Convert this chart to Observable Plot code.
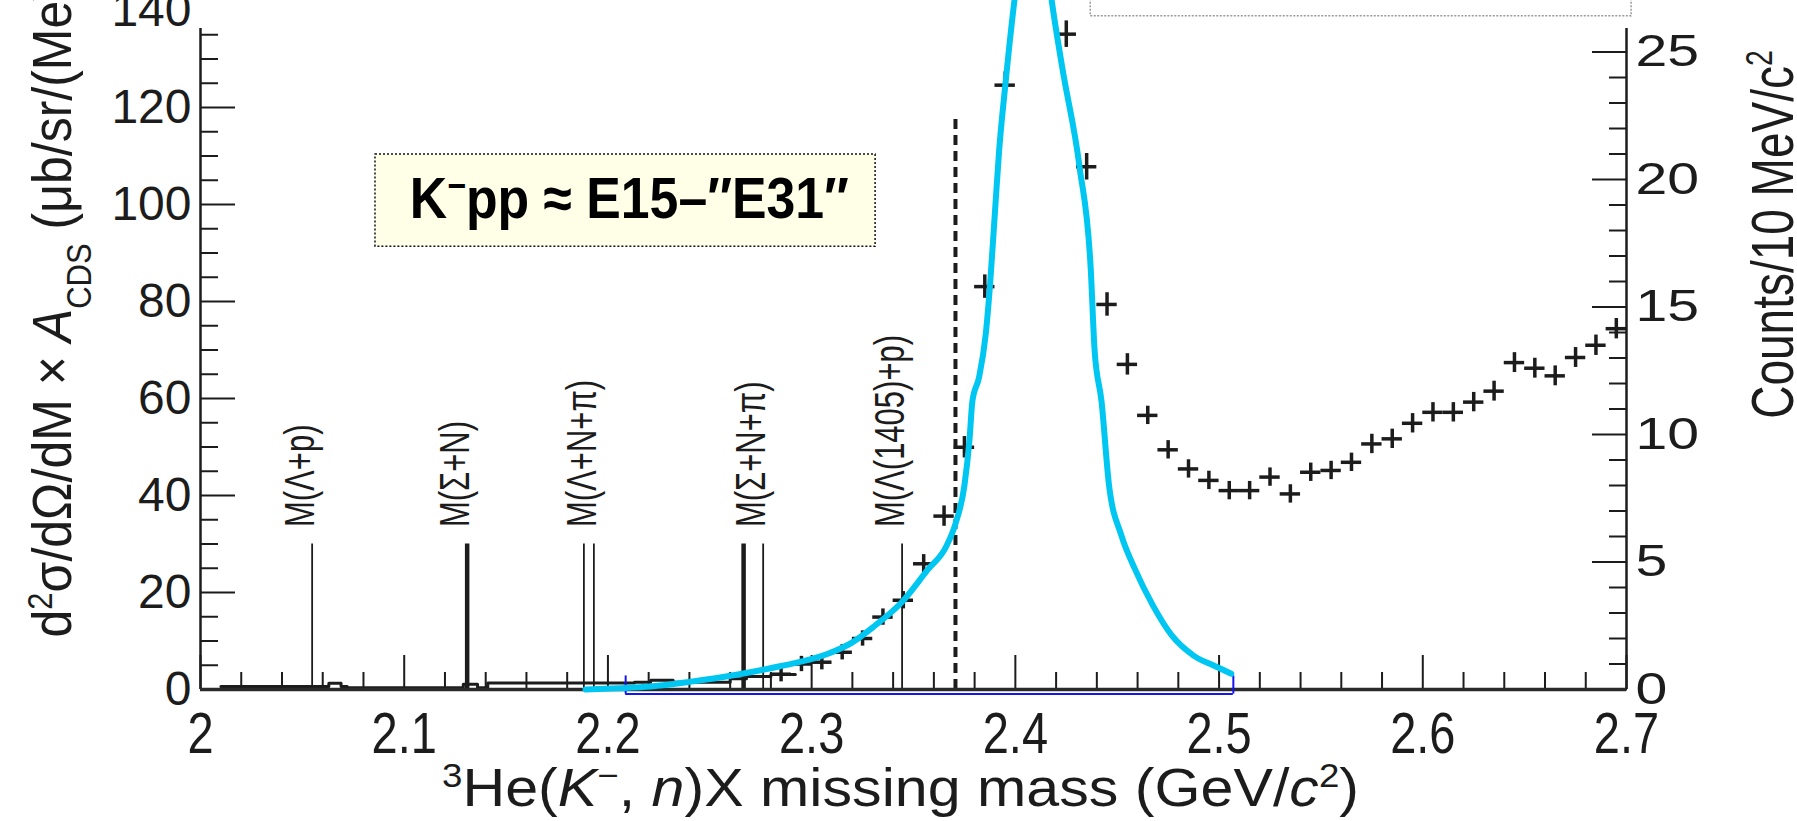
<!DOCTYPE html>
<html>
<head>
<meta charset="utf-8">
<script src="https://cdn.jsdelivr.net/npm/d3@7"></script>
<script src="https://cdn.jsdelivr.net/npm/@observablehq/plot@0.6"></script>
<style>
html, body { margin: 0; padding: 0; background: #fff; overflow: hidden; }
#chart svg { display: block; }
</style>
</head>
<body>
<div id="chart"></div>
<script>
// ---------------- E31 spectrum (right axis: counts / 10 MeV/c^2) ----------------
const e31Mass   = [2.285, 2.295, 2.305, 2.315, 2.325, 2.335, 2.345, 2.355, 2.365, 2.375, 2.385, 2.395,
                   2.425, 2.435, 2.445, 2.455, 2.465, 2.475, 2.485, 2.495, 2.505, 2.515, 2.525, 2.535,
                   2.545, 2.555, 2.565, 2.575, 2.585, 2.595, 2.605, 2.615, 2.625, 2.635, 2.645, 2.655,
                   2.665, 2.675, 2.685, 2.695];
const e31Counts = [0.6, 1.0, 1.07, 1.46, 2.0, 2.84, 3.5, 4.93, 6.8, 9.5, 15.8, 23.7,
                   25.7, 20.5, 15.1, 12.75, 10.75, 9.4, 8.65, 8.2, 7.8, 7.8, 8.33, 7.67,
                   8.52, 8.59, 8.91, 9.63, 9.83, 10.44, 10.87, 10.87, 11.27, 11.7, 12.82, 12.6,
                   12.3, 13.02, 13.5, 14.15];
const e31Error  = [0.3, 0.3, 0.3, 0.3, 0.3, 0.32, 0.34, 0.36, 0.4, 0.42, 0.46, 0.52,
                   0.52, 0.52, 0.46, 0.42, 0.36, 0.36, 0.36, 0.36, 0.36, 0.36, 0.36, 0.36,
                   0.36, 0.36, 0.36, 0.38, 0.38, 0.38, 0.38, 0.38, 0.38, 0.39, 0.39, 0.39,
                   0.39, 0.39, 0.4, 0.4];
const e31BinWidth = 0.01;

// ---------------- cyan overlay curve (counts scale) ----------------
const curveMass   = [2.189, 2.205, 2.221, 2.240, 2.2645, 2.285, 2.308, 2.320, 2.331, 2.344, 2.357, 2.366,
                     2.3706, 2.375, 2.3775, 2.3789, 2.3822, 2.3855, 2.3876, 2.3898, 2.392, 2.3952, 2.3996,
                     2.404, 2.409, 2.414, 2.4178, 2.423, 2.4315, 2.437, 2.4389, 2.4423, 2.446, 2.452,
                     2.4586, 2.4675, 2.477, 2.4875, 2.4976, 2.506];
const curveCounts = [0.0, 0.05, 0.12, 0.3, 0.6, 0.92, 1.4, 1.85, 2.5, 3.4, 4.7, 5.6,
                     6.5, 8.0, 9.8, 11.3, 12.25, 13.96, 15.9, 18.5, 21.1, 23.8, 27.05,
                     29.5, 30.5, 29.5, 27.05, 24.4, 20.5, 16.5, 13.3, 11.3, 8.0, 6.05,
                     4.74, 3.3, 2.1, 1.33, 0.93, 0.62];

// ---------------- E15 histogram (left axis) ----------------
const e15Mass  = [2.010, 2.063, 2.069, 2.072, 2.129, 2.136, 2.141, 2.213, 2.221, 2.232, 2.260, 2.268, 2.280, 2.292];
const e15Value = [0.6, 1.3, 0.6, 0.35, 1.1, 0.35, 1.35, 1.5, 1.9, 1.5, 2.2, 2.7, 3.1, 3.1];

// ---------------- thresholds ----------------
const thinThresholdMass = [2.0548, 2.1882, 2.1931, 2.2762, 2.3444];
const boldThresholdMass = [2.1309, 2.2666];
const thresholdLabels = ["M(Λ+p)", "M(Σ+N)", "M(Λ+N+π)", "M(Σ+N+π)", "M(Λ(1405)+p)"];
const thresholdLabelMass = [2.0548, 2.1309, 2.1931, 2.2762, 2.3444];
const thresholdHeight = 30;
const thresholdLabelBase = 33.5;
const kppThreshold = [2.3706];
const kppLineTop = 118;
const fitRange = [2.2087, 2.507];

// ---------------- axes ----------------
const xMajor = [2.0, 2.1, 2.2, 2.3, 2.4, 2.5, 2.6, 2.7];
const xTickLabels = ["2", "2.1", "2.2", "2.3", "2.4", "2.5", "2.6", "2.7"];
const xMinor = d3.range(1, 35).map(i => 2 + i * 0.02).filter((v, i) => (i + 1) % 5 !== 0);
const yMajor = [0, 20, 40, 60, 80, 100, 120];
const yLabelTicks = [0, 20, 40, 60, 80, 100, 120, 140];
const yTickLabels = ["0", "20", "40", "60", "80", "100", "120", "140"];
const yMinor = d3.range(5, 140, 5).filter(v => v % 20 !== 0);
const rMajor = [0, 5, 10, 15, 20, 25];
const rTickLabels = ["0", "5", "10", "15", "20", "25"];
const rMinor = d3.range(1, 26).filter(v => v % 5 !== 0);

const leftTop = 142.06;   // left-axis value at top edge of the svg
const rightTop = 27.02;   // right-axis value at top edge of the svg
const frameTop = 136.3;   // where the frame lines stop
const k = leftTop / rightTop;

const xTitle = "³He(K⁻, n)X missing mass (GeV/c²)";
const yTitle = "d²σ/dΩ/dM × ACDS (μb/sr/(MeV/c²))";
const rTitle = "Counts/10 MeV/c²";
const note = "K⁻pp ≈ E15–″E31″";
const noteBox = {x1: 2.0859, x2: 2.3314, y1: 91.3, y2: 110.3};
const noteAt = {x: 2.2105, y: 101};
const legendBox = {x1: 2.437, x2: 2.7025, y1: 138.8, y2: 150};

// ---------------- build ----------------
const e31 = e31Mass.map((m, i) => ({m, c: e31Counts[i], e: e31Error[i]}));
const curve = curveMass.map((m, i) => ({m, c: curveCounts[i]}));
const e15 = e15Mass.map((m, i) => ({m, v: e15Value[i]}));
const ink = "#1c1c1c";
const tickOnly = {tickFormat: null, label: null, stroke: ink, strokeWidth: 2, fill: "none"};

const chart = Plot.plot({
  width: 1797, height: 821,
  marginLeft: 200, marginRight: 171, marginTop: 0, marginBottom: 132,
  x: {domain: [2.0, 2.7], axis: null},
  y: {domain: [0, leftTop], axis: null},
  style: {fontFamily: "'Liberation Sans', Arial, sans-serif", color: ink, background: "white"},
  marks: [
    Plot.line(e15, {x: "m", y: "v", curve: "step-after", stroke: ink, strokeWidth: 3}),
    Plot.ruleX(thinThresholdMass, {x: d => d, y1: 0, y2: thresholdHeight, stroke: ink, strokeWidth: 1.8}),
    Plot.ruleX(boldThresholdMass, {x: d => d, y1: 0, y2: thresholdHeight, stroke: ink, strokeWidth: 4.5}),
    Plot.text(thresholdLabels, {x: (d, i) => thresholdLabelMass[i], y: thresholdLabelBase, text: d => d,
      rotate: -90, textAnchor: "start", lineAnchor: "bottom", dx: 2, fontSize: 31, fill: ink, className: "thr"}),
    Plot.ruleX(kppThreshold, {x: d => d, y1: 0, y2: kppLineTop, stroke: ink, strokeWidth: 4, strokeDasharray: "10,6"}),

    Plot.axisX({...tickOnly, ticks: xMajor, tickSize: -34}),
    Plot.axisX({...tickOnly, ticks: xMinor, tickSize: -17}),
    Plot.axisX({ticks: xMajor, tickSize: 0, tickPadding: 23, fontSize: 47, label: null, className: "xtick",
      tickFormat: d => xTickLabels[xMajor.indexOf(d)]}),
    Plot.axisY({...tickOnly, ticks: yMajor, tickSize: -35}),
    Plot.axisY({...tickOnly, ticks: yMinor, tickSize: -18}),
    Plot.axisY({ticks: yLabelTicks, tickSize: 0, tickPadding: 9, fontSize: 48, label: null,
      tickFormat: d => yTickLabels[yLabelTicks.indexOf(d)]}),
    Plot.axisY({...tickOnly, anchor: "right", ticks: rMajor.map(c => c * k), tickSize: -35}),
    Plot.axisY({...tickOnly, anchor: "right", ticks: rMinor.map(c => c * k), tickSize: -18}),
    Plot.axisY({anchor: "right", ticks: rMajor.map(c => c * k), tickSize: 0, tickPadding: 9, fontSize: 44, label: null, className: "rtick",
      tickFormat: (d) => rTickLabels[rMajor.findIndex(c => Math.abs(c * k - d) < 1e-6)]}),
    Plot.ruleX([2.0, 2.7], {x: d => d, y1: 0, y2: frameTop, stroke: ink, strokeWidth: 2.5}),
    Plot.ruleY([0], {stroke: "#2a2a2a", strokeWidth: 3.5}),

    Plot.ruleY(e31, {y: d => d.c * k, x1: d => d.m - e31BinWidth / 2, x2: d => d.m + e31BinWidth / 2, stroke: ink, strokeWidth: 3.5}),
    Plot.ruleX(e31, {x: "m", y1: d => (d.c - d.e) * k, y2: d => (d.c + d.e) * k, stroke: ink, strokeWidth: 3.5}),

    Plot.ruleY([-0.95], {x1: fitRange[0], x2: fitRange[1], stroke: "#1515f0", strokeWidth: 2}),
    Plot.ruleX(fitRange, {x: d => d, y1: -0.95, y2: 2.8, stroke: "#1515f0", strokeWidth: 2}),

    Plot.line(curve, {x: "m", y: d => d.c * k, curve: "monotone-x", stroke: "#00c6f2", strokeWidth: 6}),

    Plot.rect([noteBox], {x1: "x1", x2: "x2", y1: "y1", y2: "y2", fill: "#fffee6", stroke: "#111", strokeWidth: 1.5, strokeDasharray: "2,2"}),
    Plot.text([note], {x: noteAt.x, y: noteAt.y, text: d => d, fontSize: 58, fontWeight: "bold", fill: "#000", className: "note"}),
    Plot.rect([legendBox], {x1: "x1", x2: "x2", y1: "y1", y2: "y2", fill: "white", stroke: "#9a9a9a", strokeWidth: 1.5, strokeDasharray: "2,1.5"}),

    Plot.text([xTitle], {frameAnchor: "bottom", dx: -13, dy: 116, lineAnchor: "bottom", fontSize: 48, fill: ink, className: "xtitle"}),
    Plot.text([yTitle], {frameAnchor: "bottom-left", dx: -130, dy: -52, rotate: -90, textAnchor: "start", lineAnchor: "bottom", fontSize: 50, fill: ink, className: "ytitle"}),
    Plot.text([rTitle], {frameAnchor: "top-right", dx: 166, dy: 234, rotate: -90, textAnchor: "middle", lineAnchor: "bottom", fontSize: 46, fill: ink, className: "rtitle"})
  ]
});

document.getElementById("chart").appendChild(chart);

// rich text: superscripts, subscripts, italics; and the stretched glyphs of the original figure
const sup = s => `<tspan baseline-shift="super" font-size="62%">${s}</tspan>`;
const sub = s => `<tspan baseline-shift="sub" font-size="62%">${s}</tspan>`;
const it = s => `<tspan font-style="italic">${s}</tspan>`;
const sel = d3.select(chart);
const stretch = (selector, s) => sel.selectAll(selector).each(function () {
  const t = this.getAttribute("transform") || "";
  this.setAttribute("transform", t + " " + s);
});
sel.selectAll(".xtitle text").html(`${sup("3")}He(${it("K")}${sup("−")}, ${it("n")})X missing mass (GeV/${it("c")}${sup("2")})`)
  .attr("textLength", 917).attr("lengthAdjust", "spacingAndGlyphs");
sel.selectAll(".ytitle text").html(`d${sup("2")}σ/dΩ/dM × ${it("A")}${sub("CDS")} (μb/sr/(MeV/c${sup("2")}))`);
sel.selectAll(".rtitle text").html(`Counts/10 MeV/c${sup("2")}`);
sel.selectAll(".note text").html(`K${sup("−")}pp ≈ E15–″E31″`)
  .attr("textLength", 439).attr("lengthAdjust", "spacingAndGlyphs");
stretch(".thr text", "scale(1,1.4)");
stretch(".xtick text", "scale(1,1.22)");
stretch(".rtick text", "scale(1.3,1)");
stretch(".rtitle text", "scale(1,1.3)");
stretch(".ytitle text", "scale(1,1.12)");
stretch(".xtitle text", "scale(1,1.12)");
</script>
</body>
</html>
